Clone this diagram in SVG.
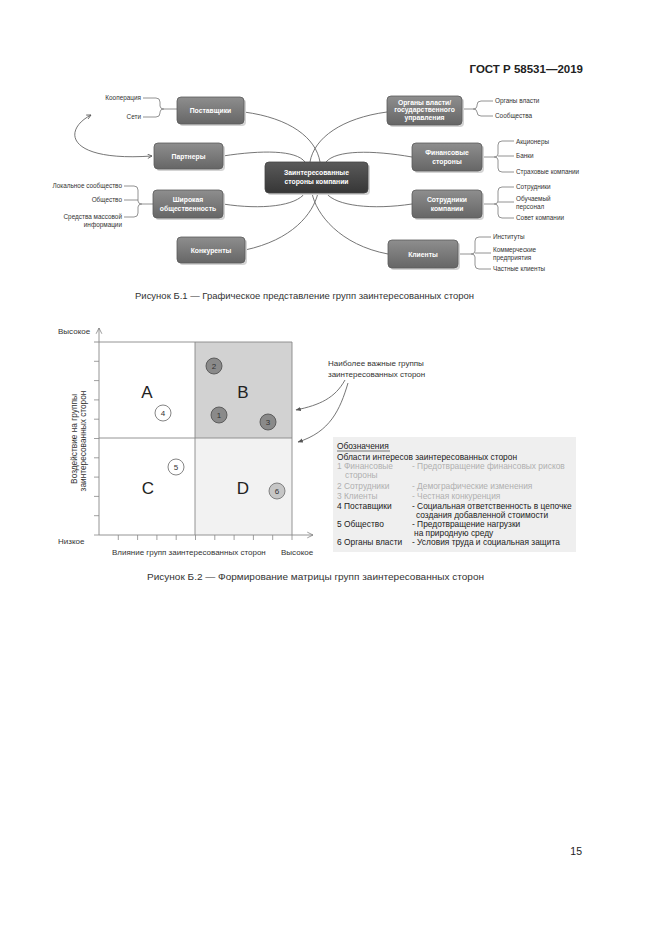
<svg xmlns="http://www.w3.org/2000/svg" width="661" height="935" viewBox="0 0 661 935">
<defs>
<linearGradient id="ng" x1="0" y1="0" x2="0" y2="1"><stop offset="0" stop-color="#8e8e8e"/><stop offset="1" stop-color="#666"/></linearGradient>
<linearGradient id="cg" x1="0" y1="0" x2="0" y2="1"><stop offset="0" stop-color="#5a5a5a"/><stop offset="1" stop-color="#363636"/></linearGradient>
<marker id="ah" viewBox="0 0 10 10" refX="9" refY="5" markerWidth="6" markerHeight="6" orient="auto-start-reverse"><path d="M1,1 L9,5 L1,9" fill="none" stroke="#555" stroke-width="1.5"/></marker>
<marker id="ax" viewBox="0 0 10 10" refX="9" refY="5" markerWidth="8" markerHeight="8" orient="auto"><path d="M1,1 L9,5 L1,9" fill="none" stroke="#777" stroke-width="1"/></marker>
<marker id="sa" viewBox="0 0 10 10" refX="9" refY="5" markerWidth="6" markerHeight="6" orient="auto"><path d="M0,1 L10,5 L0,9 z" fill="#555"/></marker>
</defs>
<style>
text{font-family:"Liberation Sans",Arial,sans-serif;}
.nb{fill:url(#ng);stroke:#5a5a5a;stroke-width:0.8;}
.sh{fill:#d4d4d4;}
.nt{fill:#fff;font-size:6.8px;font-weight:bold;text-anchor:middle;}
.lf{fill:#333;font-size:6.4px;}
.lr{fill:#333;font-size:6.4px;text-anchor:end;}
.cv{fill:none;stroke:#666;stroke-width:0.9;}
.br{fill:none;stroke:#777;stroke-width:0.8;}
.ax{fill:none;stroke:#888;stroke-width:0.9;}
.tk{stroke:#888;stroke-width:0.8;}
.ql{font-size:17px;fill:#222;text-anchor:middle;}
.cn{font-size:8px;fill:#333;text-anchor:middle;}
.lg{font-size:8.4px;fill:#222;}
.lgg{font-size:8.4px;fill:#b0b0b0;}
.cap{font-size:9.4px;fill:#333;}
.al{font-size:8px;fill:#333;}
.yl{font-size:8.3px;fill:#333;text-anchor:middle;}
</style>
<rect width="661" height="935" fill="#fff"/>
<text x="583" y="73" font-size="11.5" font-weight="bold" fill="#222" text-anchor="end">ГОСТ Р 58531—2019</text>

<g id="connectors">
<path class="cv" d="M244,112 C290,118 316,138 320,162"/>
<path class="cv" d="M223,156 C262,150 296,150 305,162"/>
<path class="cv" d="M387,112 C342,118 314,138 310,162"/>
<path class="cv" d="M412,157 C372,150 336,150 326,162"/>
<path class="cv" d="M223,204 C262,210 296,206 305,193"/>
<path class="cv" d="M245,250 C292,240 313,214 318,193"/>
<path class="cv" d="M412,204 C372,210 336,206 326,193"/>
<path class="cv" d="M388,254 C340,245 316,214 312,193"/>
<path class="cv" d="M91,115 C62,130 66,162 152,156" marker-start="url(#ah)" marker-end="url(#ah)"/>
<path class="br" d="M143,98 H156 Q160,98 160,102 V106 Q160,109 164,109 H177 M143,117 H156 Q160,117 160,113 V112 Q160,109 164,109"/>
<path class="br" d="M124,186 H134 Q138,186 138,190 V201 Q138,204 142,204 H153 M124,200 H138 M124,217 H134 Q138,217 138,213 V207 Q138,204 142,204"/>
<path class="br" d="M493,101 H481 Q477,101 477,105 V106 Q477,109 473,109 H462 M493,116 H481 Q477,116 477,112 V112 Q477,109 473,109"/>
<path class="br" d="M514,141 H502 Q498,141 498,145 V154 Q498,157 494,157 H482 M514,156 H498 M514,172 H502 Q498,172 498,168 V160 Q498,157 494,157"/>
<path class="br" d="M514,187 H502 Q498,187 498,191 V201 Q498,204 494,204 H482 M514,202 H498 M514,218 H502 Q498,218 498,214 V207 Q498,204 494,204"/>
<path class="br" d="M491,237 H479 Q475,237 475,241 V251 Q475,254 471,254 H458 M491,253 H475 M491,269 H479 Q475,269 475,265 V257 Q475,254 471,254"/>
</g>

<g id="n-center"><rect x="267" y="164" width="103" height="31" rx="4" class="sh"/><rect x="265" y="162" width="103" height="31" rx="4" fill="url(#cg)" stroke="#444" stroke-width="0.8"/><text class="nt" x="316.5" y="175">Заинтересованные</text><text class="nt" x="316.5" y="184">стороны компании</text></g>
<g id="n-postavshiki"><rect x="179" y="99" width="67" height="27" rx="4" class="sh"/><rect x="177" y="97" width="67" height="27" rx="4" class="nb"/><text class="nt" x="210.5" y="113">Поставщики</text></g>
<g id="n-partnery"><rect x="156" y="145" width="69" height="26" rx="4" class="sh"/><rect x="154" y="143" width="69" height="26" rx="4" class="nb"/><text class="nt" x="188.5" y="158.5">Партнеры</text></g>
<g id="n-obshchestvennost"><rect x="155" y="192" width="70" height="28" rx="4" class="sh"/><rect x="153" y="190" width="70" height="28" rx="4" class="nb"/><text class="nt" x="188" y="202">Широкая</text><text class="nt" x="188" y="210.5">общественность</text></g>
<g id="n-konkurenty"><rect x="179" y="239" width="68" height="26" rx="4" class="sh"/><rect x="177" y="237" width="68" height="26" rx="4" class="nb"/><text class="nt" x="211" y="252.5">Конкуренты</text></g>
<g id="n-organy"><rect x="389" y="98" width="75" height="29" rx="4" class="sh"/><rect x="387" y="96" width="75" height="29" rx="4" class="nb"/><text class="nt" x="424.5" y="104.5">Органы власти/</text><text class="nt" x="424.5" y="112">государственного</text><text class="nt" x="424.5" y="119.5">управления</text></g>
<g id="n-finansovye"><rect x="414" y="145" width="70" height="28" rx="4" class="sh"/><rect x="412" y="143" width="70" height="28" rx="4" class="nb"/><text class="nt" x="447" y="155">Финансовые</text><text class="nt" x="447" y="163.5">стороны</text></g>
<g id="n-sotrudniki"><rect x="414" y="192" width="70" height="28" rx="4" class="sh"/><rect x="412" y="190" width="70" height="28" rx="4" class="nb"/><text class="nt" x="447" y="202">Сотрудники</text><text class="nt" x="447" y="210.5">компании</text></g>
<g id="n-klienty"><rect x="390" y="242" width="70" height="28" rx="4" class="sh"/><rect x="388" y="240" width="70" height="28" rx="4" class="nb"/><text class="nt" x="423" y="256.5">Клиенты</text></g>

<g id="leaves">
<text class="lr" x="141" y="100">Кооперация</text>
<text class="lr" x="141" y="119">Сети</text>
<text class="lr" x="122" y="188">Локальное сообщество</text>
<text class="lr" x="122" y="202">Общество</text>
<text class="lr" x="122" y="219">Средства массовой</text>
<text class="lr" x="122" y="227">информации</text>
<text class="lf" x="495" y="103">Органы власти</text>
<text class="lf" x="495" y="118">Сообщества</text>
<text class="lf" x="516" y="144">Акционеры</text>
<text class="lf" x="516" y="158">Банки</text>
<text class="lf" x="516" y="174">Страховые компании</text>
<text class="lf" x="516" y="189">Сотрудники</text>
<text class="lf" x="516" y="201">Обучаемый</text>
<text class="lf" x="516" y="209">персонал</text>
<text class="lf" x="516" y="220">Совет компании</text>
<text class="lf" x="493" y="239">Институты</text>
<text class="lf" x="493" y="252">Коммерческие</text>
<text class="lf" x="493" y="260">предприятия</text>
<text class="lf" x="493" y="271">Частные клиенты</text>
</g>

<text class="cap" x="135" y="299" textLength="339" lengthAdjust="spacingAndGlyphs">Рисунок Б.1 — Графическое представление групп заинтересованных сторон</text>

<g id="matrix">
<rect x="195" y="342" width="97" height="96" fill="#d2d2d2"/>
<rect x="195" y="438" width="97" height="97" fill="#f2f2f2"/>
<path class="ax" d="M94,342 H292 V535 M195,342 V535 M99,438 H292"/>
<path class="ax" d="M99,535 V328" marker-end="url(#ax)"/>
<path class="ax" d="M99,535 H313" marker-end="url(#ax)"/>
<path class="tk" d="M94,361.3 H99 M94,380.6 H99 M94,399.9 H99 M94,419.2 H99 M94,438.5 H99 M94,457.8 H99 M94,477.1 H99 M94,496.4 H99 M94,515.7 H99 M94,535 H99"/>
<path class="tk" d="M118.3,535 V540 M137.6,535 V540 M156.9,535 V540 M176.2,535 V540 M195.5,535 V540 M214.8,535 V540 M234.1,535 V540 M253.4,535 V540 M272.7,535 V540 M292,535 V540"/>
<text class="ql" x="147" y="398">A</text>
<text class="ql" x="243" y="398">B</text>
<text class="ql" x="148" y="494">C</text>
<text class="ql" x="243" y="494">D</text>
<g id="c2"><circle cx="214" cy="366" r="8" fill="#8a8a8a" stroke="#555" stroke-width="0.9"/><text class="cn" x="214" y="369">2</text></g>
<g id="c1"><circle cx="219" cy="415" r="8" fill="#8a8a8a" stroke="#555" stroke-width="0.9"/><text class="cn" x="219" y="418">1</text></g>
<g id="c3"><circle cx="268" cy="422" r="8" fill="#8a8a8a" stroke="#555" stroke-width="0.9"/><text class="cn" x="268" y="425">3</text></g>
<g id="c4"><circle cx="163" cy="413" r="8" fill="#fff" stroke="#777" stroke-width="0.9"/><text class="cn" x="163" y="416">4</text></g>
<g id="c5"><circle cx="176" cy="467" r="8" fill="#fff" stroke="#777" stroke-width="0.9"/><text class="cn" x="176" y="470">5</text></g>
<g id="c6"><circle cx="277" cy="491" r="8" fill="#c6c6c6" stroke="#777" stroke-width="0.9"/><text class="cn" x="277" y="494">6</text></g>
<text class="al" x="58" y="334">Высокое</text>
<text class="al" x="58" y="544">Низкое</text>
<text class="al" x="112" y="555">Влияние групп заинтересованных сторон</text>
<text class="al" x="281" y="555">Высокое</text>
<text class="yl" transform="translate(77,439) rotate(-90)">Воздействие на группы</text>
<text class="yl" transform="translate(86,441) rotate(-90)">заинтересованных сторон</text>
</g>

<g id="callout">
<text class="al" x="328" y="366">Наиболее важные группы</text>
<text class="al" x="328" y="377">заинтересованных сторон</text>
<path class="cv" d="M345,380 C335,398 320,405 296,410" marker-end="url(#sa)"/>
<path class="cv" d="M348,383 C340,410 330,432 298,442" marker-end="url(#sa)"/>
</g>

<g id="legend">
<rect x="333" y="437" width="243" height="115" fill="#efefef"/>
<text class="lg" x="337" y="449">Обозначения</text>
<line x1="337" y1="451" x2="390" y2="451" stroke="#222" stroke-width="0.6"/>
<text class="lg" x="337" y="460">Области интересов заинтересованных сторон</text>
<text class="lgg" x="337" y="469">1 Финансовые</text>
<text class="lgg" x="345" y="478">стороны</text>
<text class="lgg" x="412" y="469">- Предотвращение финансовых рисков</text>
<text class="lgg" x="337" y="489">2 Сотрудники</text>
<text class="lgg" x="412" y="489">- Демографические изменения</text>
<text class="lgg" x="337" y="499">3 Клиенты</text>
<text class="lgg" x="412" y="499">- Честная конкуренция</text>
<text class="lg" x="337" y="509">4 Поставщики</text>
<text class="lg" x="412" y="509">- Социальная ответственность в цепочке</text>
<text class="lg" x="416" y="518">создания добавленной стоимости</text>
<text class="lg" x="337" y="527">5 Общество</text>
<text class="lg" x="412" y="527">- Предотвращение нагрузки</text>
<text class="lg" x="414" y="536">на природную среду</text>
<text class="lg" x="337" y="545">6 Органы власти</text>
<text class="lg" x="412" y="545">- Условия труда и социальная защита</text>
</g>

<text class="cap" x="147" y="580" textLength="337" lengthAdjust="spacingAndGlyphs">Рисунок Б.2 — Формирование матрицы групп заинтересованных сторон</text>
<text x="582" y="855" font-size="10.5" fill="#222" text-anchor="end">15</text>
</svg>
